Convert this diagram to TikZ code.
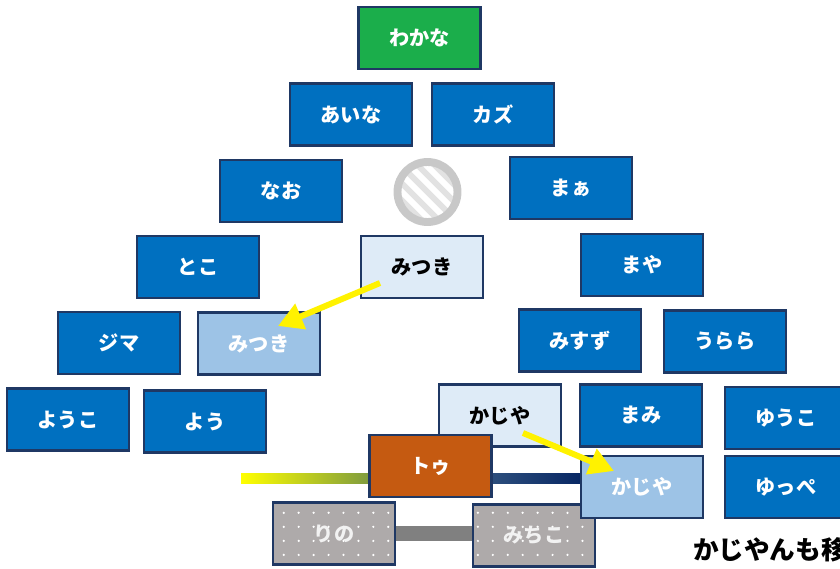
\documentclass[tikz,border=0pt]{standalone}
\usepackage{fontspec}
\newfontfamily\jp{Noto Sans CJK JP}
\usetikzlibrary{arrows.meta,backgrounds,patterns.meta,calc}

\definecolor{boxblue}{HTML}{0070C0}
\definecolor{edgeblue}{HTML}{1F3864}
\definecolor{paleblue}{HTML}{DEEBF7}
\definecolor{midblue}{HTML}{9DC3E6}
\definecolor{leafgreen}{HTML}{1BAE4B}
\definecolor{rust}{HTML}{C55A11}
\definecolor{stone}{HTML}{AEAAAA}
\definecolor{deepnavy}{HTML}{082764}
\definecolor{steelnavy}{HTML}{2C4E7C}
\definecolor{mossgreen}{HTML}{7E9B3F}
\definecolor{ringgray}{HTML}{C8C8C8}
\definecolor{stripegray}{HTML}{E2E2E2}

\tikzdeclarepattern{name=snowdots, type=uncolored,
  bounding box={(-1pt,-1pt) and (9pt,9pt)}, tile size={(8.5pt,8pt)},
  code={\fill (0,0) circle (0.7pt);}}

\begin{document}
\begin{tikzpicture}[x=0.02cm, y=-0.02cm,
    every node/.style={minimum width=2.44cm, minimum height=1.24cm, inner sep=0pt, outer sep=0pt,
      draw=edgeblue, line width=1.2pt, font=\jp\bfseries\fontsize{11.5pt}{13pt}\selectfont},
    member/.style={fill=boxblue, text=white},
    leader/.style={fill=leafgreen, text=white},
    before/.style={fill=paleblue, text=black},
    after/.style={fill=midblue, text=white},
    guest/.style={fill=rust, text=white},
    away/.style={preaction={fill=stone}, pattern={snowdots}, pattern color=white, text=white!95!black},
    moveto/.style={yellow, line width=3.4pt, -{Triangle[length=14pt, width=15pt]}}]
    \useasboundingbox (0,0) rectangle (840,569);

    \node[leader](wakana) at (419.5, 38) {わかな};
    \node[member](aina) at (351, 114.5) {あいな};
    \node[member](kazu) at (493, 114.5) {カズ};
    \node[member](nao) at (281, 191) {なお};
    \node[member](maa) at (571, 188) {まぁ};
    \node[member](toko) at (198, 267) {とこ};
    \node[before](mitsuki_old) at (422, 267) {みつき};
    \node[member](maya) at (642, 265) {まや};
    \node[member](jima) at (119, 343) {ジマ};
    \node[after](mitsuki_new) at (259, 343.5) {みつき};
    \node[member](misuzu) at (580, 340.5) {みすず};
    \node[member](urara) at (725, 341.5) {うらら};
    \node[member](youko) at (68, 419.5) {ようこ};
    \node[member](you) at (205, 421.5) {よう};
    \node[before](kajiya_old) at (500, 415.5) {かじや};
    \node[member](mami) at (641, 415.5) {まみ};
    \node[member](yuuko) at (786, 418) {ゆうこ};
    \node[guest](tou) at (430.5, 466) {トゥ};
    \node[away](rino) at (334, 533.5) {りの};
    \node[away](michiko) at (534, 535.5) {みちこ};
    \node[after](kajiya_new) at (642, 487) {かじや};
    \node[member](yuppe) at (786, 487) {ゆっぺ};

    % empty seat
    \node[circle, minimum size=1.2cm, draw=ringgray, line width=4.5pt, fill=white,
      path picture={\foreach \k in {-5,...,5}
        \draw[stripegray, line width=3.4pt]
          ($(path picture bounding box.center)+(\k*0.34cm-1cm, 1cm)$) -- ++(2cm,-2cm);}]
      (seat) at (427.5, 192) {};

    \node[draw=none, minimum width=0pt, minimum height=0pt, anchor=west,
      font=\jp\bfseries\fontsize{14.6pt}{16pt}\selectfont] (note) at (693, 550) {かじやんも移};

    \coordinate (lane_start) at (241, 478);
    \coordinate (mitsuki_tail) at (380, 283);
    \coordinate (mitsuki_tip) at (278, 326);
    \coordinate (kajiya_tail) at (523, 433);
    \coordinate (kajiya_tip) at (614, 471);

    \begin{scope}[on background layer]
        \shade[left color=yellow, right color=mossgreen]
          ($(lane_start)+(0,-5)$) rectangle ($(tou.west |- lane_start)+(0,5)$);
        \shade[left color=steelnavy, right color=deepnavy]
          ($(tou.east |- lane_start)+(0,-5)$) rectangle ($(kajiya_new.west |- lane_start)+(0,5)$);
        \draw[gray, line width=8pt] (rino.east) -- (michiko.west |- rino.east);
    \end{scope}

    \draw[moveto] (mitsuki_tail) -- (mitsuki_tip);
    \draw[moveto] (kajiya_tail) -- (kajiya_tip);
\end{tikzpicture}
\end{document}
